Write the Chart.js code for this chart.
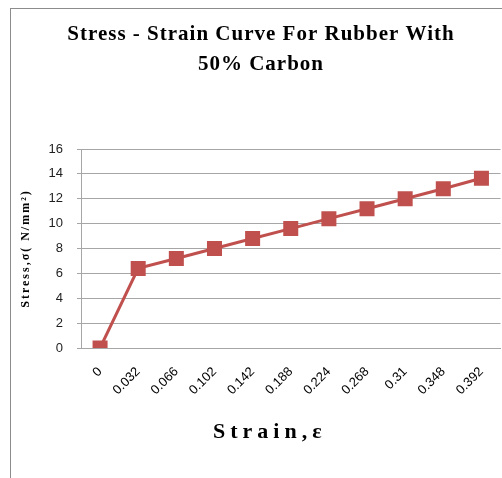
<!DOCTYPE html>
<html>
<head>
<meta charset="utf-8">
<script src="https://cdn.jsdelivr.net/npm/chart.js@4"></script>
<style>
  html, body { margin: 0; padding: 0; background: #fff; }
  #wrap { position: relative; width: 502px; height: 478px; overflow: hidden; }
  #frame { position: absolute; left: 10px; top: 8px; right: 0; bottom: 0;
           border-left: 1px solid #8c8c8c; border-top: 1px solid #8c8c8c; }
  canvas { position: absolute; left: 0; top: 0; }
</style>
</head>
<body>
<div id="wrap">
  <div id="frame"></div>
  <canvas id="chart" width="512" height="478"></canvas>
</div>
<script>
// strain values (categories) and stress readings
const strain = ['0', '0.032', '0.066', '0.102', '0.142', '0.188', '0.224', '0.268', '0.31', '0.348', '0.392'];
const stress = [0, 6.4, 7.2, 8.0, 8.8, 9.6, 10.4, 11.2, 12.0, 12.8, 13.65];
const yTicks = [0, 2, 4, 6, 8, 10, 12, 14, 16];

const red = '#c0504d';
const gridGray = '#a6a6a6';
const serif = '"Liberation Serif", "Times New Roman", serif';
const sans = '"Liberation Sans", Arial, sans-serif';

// wrap a draw function so its text gets extra letter spacing (and optional shift)
function spaced(obj, key, px, dx) {
    if (!obj || obj['_sp_' + key]) return;
    const orig = obj[key].bind(obj);
    obj[key] = function (...args) {
        const ctx = obj.ctx || obj.chart.ctx;
        ctx.save();
        ctx.letterSpacing = px + 'px';
        if (dx) ctx.translate(dx, 0);
        orig(...args);
        ctx.restore();
    };
    obj['_sp_' + key] = true;
}

const letterSpacing = {
    id: 'letterSpacing',
    beforeDraw(chart) {
        spaced(chart.titleBlock, 'draw', 1, -4);
        spaced(chart.scales.x, 'drawTitle', 5, -21);
        spaced(chart.scales.y, 'drawTitle', 2, 0);
    }
};

// canvas is 10px wider than the window; the point overflow padding
// on the right then lands the plot edge at the window edge
new Chart(document.getElementById('chart'), {
    type: 'line',
    data: {
        labels: strain,
        datasets: [{
            data: stress,
            borderColor: red,
            backgroundColor: red,
            borderWidth: 3,
            pointStyle: 'rect',
            pointRadius: 8.5,
            pointHoverRadius: 8.5,
            tension: 0
        }]
    },
    plugins: [letterSpacing],
    options: {
        responsive: false,
        animation: false,
        layout: { padding: { left: 18, right: 0, top: 0, bottom: 0 } },
        plugins: {
            legend: { display: false },
            tooltip: { enabled: false },
            title: {
                display: true,
                text: ['Stress - Strain Curve For Rubber With', '50% Carbon'],
                color: '#000',
                font: { family: serif, size: 21, weight: 'bold', lineHeight: '30px' },
                padding: { top: 20, bottom: 69 }
            }
        },
        scales: {
            x: {
                offset: true,
                grid: { display: false },
                border: { display: true, color: gridGray, width: 1 },
                ticks: {
                    color: '#000',
                    font: { family: sans, size: 13 },
                    maxRotation: 45,
                    minRotation: 45,
                    padding: 8
                },
                title: {
                    display: true,
                    text: 'Strain,ε',
                    color: '#000',
                    font: { family: serif, size: 22, weight: 'bold', lineHeight: 1.2 },
                    padding: { top: 0, bottom: 32 }
                },
                afterFit: (scale) => {
                    scale.height = 130;
                    scale.paddingLeft = 0;
                    scale.paddingRight = 0;
                }
            },
            y: {
                min: 0,
                max: 16,
                afterBuildTicks: (scale) => { scale.ticks = yTicks.map(v => ({ value: v })); },
                grid: { color: gridGray, lineWidth: 1, drawTicks: true, tickLength: 4 },
                border: { display: true, color: gridGray, width: 1 },
                ticks: {
                    color: '#1f1f1f',
                    font: { family: sans, size: 13 },
                    padding: 14
                },
                title: {
                    display: true,
                    text: 'Stress,σ( N/mm²)',
                    color: '#000',
                    font: { family: serif, size: 12, weight: 'bold', lineHeight: 1.2 },
                    padding: { top: 1, bottom: 0 }
                },
                afterFit: (scale) => { scale.width = 63; }
            }
        }
    }
});
</script>
</body>
</html>
